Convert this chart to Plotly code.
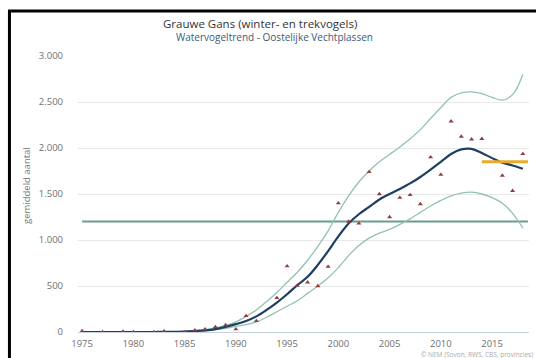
import plotly.graph_objects as go

# observed counts (triangles)
obs_years = [1975, 1977, 1979, 1980, 1982, 1983, 1985, 1986, 1987, 1988, 1989, 1990,
             1991, 1992, 1994, 1995, 1996, 1997, 1998, 1999, 2000, 2001, 2002, 2003,
             2004, 2005, 2006, 2007, 2008, 2009, 2010, 2011, 2012, 2013, 2014, 2016,
             2017, 2018]
obs_values = [10, 0, 5, 0, 0, 8, 0, 20, 30, 55, 75, 30,
              175, 120, 370, 715, 505, 540, 500, 710, 1400, 1200, 1180, 1740,
              1500, 1250, 1460, 1490, 1390, 1900, 1710, 2290, 2125, 2095, 2100, 1700,
              1535, 1935]

# trend and confidence band
trend_years = list(range(1975, 2019))
trend = [0, 0, 0, 0, 0, 0, 0, 0, 1, 2, 4, 10, 18, 32, 55, 85,
         120, 170, 240, 320, 410, 510, 600, 730, 880, 1040, 1180, 1280, 1360, 1440,
         1500, 1555, 1615, 1685, 1765, 1850, 1935, 1985, 1990, 1945, 1890, 1840,
         1810, 1775]
lower = [0, 0, 0, 0, 0, 0, 0, 0, 0, 1, 3, 7, 13, 24, 40, 60,
         80, 110, 160, 220, 280, 340, 420, 500, 590, 700, 830, 940, 1020, 1075,
         1115, 1170, 1230, 1300, 1370, 1430, 1480, 1510, 1520, 1500, 1460, 1400,
         1290, 1130]
upper = [0, 0, 0, 0, 0, 0, 0, 0, 2, 3, 6, 14, 25, 45, 72, 110,
         170, 240, 330, 430, 540, 650, 780, 930, 1100, 1300, 1480, 1630, 1750, 1850,
         1930, 2010, 2100, 2200, 2320, 2440, 2550, 2600, 2610, 2590, 2550, 2520,
         2580, 2800]

# reference levels
ref_years = [1975, 2018.5]
ref_level = [1200, 1200]
target_years = [2014, 2018.5]
target_level = [1850, 1850]

y_ticks = [0, 500, 1000, 1500, 2000, 2500, 3000]
y_ticktext = ["0", "500", "1.000", "1.500", "2.000", "2.500", "3.000"]
x_ticks = [1975, 1980, 1985, 1990, 1995, 2000, 2005, 2010, 2015]

band_color = "#93c1b4"

fig = go.Figure()
fig.add_trace(go.Scatter(x=ref_years, y=ref_level, mode="lines",
                         line=dict(color="#6a9e8c", width=2), showlegend=False))
fig.add_trace(go.Scatter(x=trend_years, y=upper, mode="lines",
                         line=dict(color=band_color, width=1.3, shape="spline"), showlegend=False))
fig.add_trace(go.Scatter(x=trend_years, y=lower, mode="lines",
                         line=dict(color=band_color, width=1.3, shape="spline"), showlegend=False))
fig.add_trace(go.Scatter(x=trend_years, y=trend, mode="lines",
                         line=dict(color="#1d3f60", width=2.2, shape="spline"), showlegend=False))
fig.add_trace(go.Scatter(x=target_years, y=target_level, mode="lines",
                         line=dict(color="#e8ac2c", width=3), showlegend=False))
fig.add_trace(go.Scatter(x=obs_years, y=obs_values, mode="markers",
                         marker=dict(symbol="triangle-up", size=4.5, color="#963c3c"),
                         showlegend=False))

font = "Open Sans, DejaVu Sans, sans-serif"

fig.update_layout(
    width=536, height=358,
    margin=dict(l=78, r=7, t=56, b=26),
    paper_bgcolor="white", plot_bgcolor="white",
    font=dict(family=font, size=8, color="#666666"),
    xaxis=dict(range=[1974.6, 2018.6], tickvals=x_ticks, showgrid=False,
               showline=True, linecolor="#c8d2e0", linewidth=1, zeroline=False,
               ticks="", ticklabelstandoff=3, tickfont=dict(size=9.5, color="#707070")),
    yaxis=dict(range=[0, 3000], tickvals=y_ticks, ticktext=y_ticktext,
               showgrid=True, gridcolor="#e8e8e8", gridwidth=1, zeroline=False,
               ticks="", ticklabelstandoff=14, tickfont=dict(size=9.5, color="#707070")),
    shapes=[
        dict(type="line", xref="paper", yref="paper", x0=-0.152, x1=-0.152, y0=-0.1, y1=1.165,
             line=dict(color="black", width=3)),
        dict(type="line", xref="paper", yref="paper", x0=-0.155, x1=1.02, y0=1.163, y1=1.163,
             line=dict(color="black", width=3)),
    ],
    annotations=[
        dict(text="Grauwe Gans (winter- en trekvogels)", xref="paper", yref="paper",
             x=(260 - 78) / 451, y=(332 - 24) / 276, xanchor="center", yanchor="middle",
             showarrow=False, font=dict(size=11.5, color="#333333")),
        dict(text="Watervogeltrend - Oostelijke Vechtplassen", xref="paper", yref="paper",
             x=(274 - 78) / 451, y=(332 - 37) / 276, xanchor="center", yanchor="middle",
             showarrow=False, font=dict(size=10, color="#3d5a78")),
        dict(text="gemiddeld aantal", xref="paper", yref="paper",
             x=(26 - 78) / 451, y=(332 - 186) / 276, xanchor="center", yanchor="middle",
             showarrow=False, textangle=-90, font=dict(size=9.5, color="#777777")),
        dict(text="© NEM (Sovon, RWS, CBS, provincies)", xref="paper", yref="paper",
             x=(535 - 78) / 451, y=(332 - 354) / 276, xanchor="right", yanchor="middle",
             showarrow=False, font=dict(size=6.5, color="#aaaaaa")),
    ],
)

# drop the default page margin and scrollbars so the figure fills the window exactly
fig.write_html("out.html", config={"displayModeBar": False},
               post_script="document.body.style.margin='0';"
                           "document.body.style.overflow='hidden';"
                           "document.documentElement.style.overflow='hidden';")
